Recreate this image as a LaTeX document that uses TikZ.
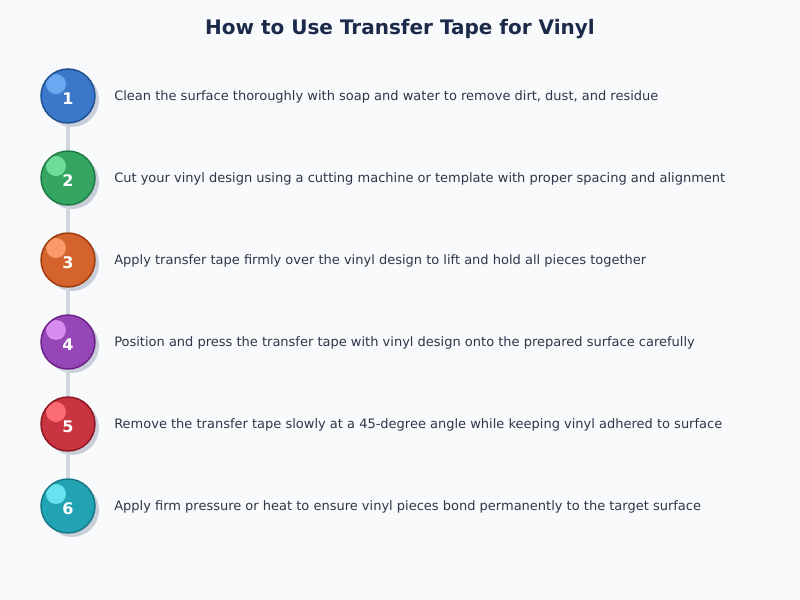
\documentclass[tikz,border=0pt]{standalone}
\usepackage{fontspec}
\setmainfont{DejaVu Sans}
\definecolor{pagebg}{HTML}{F8FAFC}
\definecolor{titleblue}{HTML}{1C2A4A}
\definecolor{textgrey}{HTML}{2E3748}
\definecolor{shadowgrey}{HTML}{C9CED9}
\definecolor{linkgrey}{HTML}{D0D5DE}
\definecolor{blueA}{HTML}{3A78C9}\definecolor{blueB}{HTML}{1D4F91}\definecolor{blueC}{HTML}{6AA9F2}
\definecolor{greenA}{HTML}{35A562}\definecolor{greenB}{HTML}{1D7A43}\definecolor{greenC}{HTML}{6FDC98}
\definecolor{orangeA}{HTML}{D4642C}\definecolor{orangeB}{HTML}{9C3B0E}\definecolor{orangeC}{HTML}{FB9A6A}
\definecolor{purpleA}{HTML}{9746B8}\definecolor{purpleB}{HTML}{6B2188}\definecolor{purpleC}{HTML}{D78BEF}
\definecolor{redA}{HTML}{C8343F}\definecolor{redB}{HTML}{8D1622}\definecolor{redC}{HTML}{FB6B72}
\definecolor{tealA}{HTML}{22A3B3}\definecolor{tealB}{HTML}{137785}\definecolor{tealC}{HTML}{67E3F0}
\begin{document}
\begin{tikzpicture}[x=0.75pt, y=-0.75pt,
    stepball/.style n args={3}{circle, draw=#2, fill=#1, line width=1.1pt, inner sep=0pt, minimum size=40.5pt,
        text=white, font=\fontsize{12}{14}\selectfont\bfseries, text height=12pt, text depth=0pt,
        preaction={fill=shadowgrey, transform canvas={shift={(3pt,-3pt)}}},
        path picture={\fill[#3] ([shift={(-9pt,9pt)}]path picture bounding box.center) circle (7.5pt);}},
    steptext/.style={anchor=west, inner sep=0pt, text=textgrey, font=\fontsize{9.75}{12}\selectfont},
    link/.style={draw=linkgrey, line width=2.6pt}]
    \fill[pagebg] (0,0) rectangle (800,600);
    \useasboundingbox (0,0) rectangle (800,600);

    \node[text=titleblue, font=\fontsize{15}{18}\selectfont\bfseries] (title) at (400, 29.5) {How to Use Transfer Tape for Vinyl};

    \node[stepball={blueA}{blueB}{blueC}] (s1) at (68, 96) {1};
    \node[stepball={greenA}{greenB}{greenC}] (s2) at (68, 178) {2};
    \node[stepball={orangeA}{orangeB}{orangeC}] (s3) at (68, 260) {3};
    \node[stepball={purpleA}{purpleB}{purpleC}] (s4) at (68, 342) {4};
    \node[stepball={redA}{redB}{redC}] (s5) at (68, 424) {5};
    \node[stepball={tealA}{tealB}{tealC}] (s6) at (68, 506) {6};

    \draw[link] (s1) -- (s2);
    \draw[link] (s2) -- (s3);
    \draw[link] (s3) -- (s4);
    \draw[link] (s4) -- (s5);
    \draw[link] (s5) -- (s6);

    \node[steptext] (t1) at (114, 97) {Clean the surface thoroughly with soap and water to remove dirt, dust, and residue};
    \node[steptext] (t2) at (114, 179) {Cut your vinyl design using a cutting machine or template with proper spacing and alignment};
    \node[steptext] (t3) at (114, 261) {Apply transfer tape firmly over the vinyl design to lift and hold all pieces together};
    \node[steptext] (t4) at (114, 343) {Position and press the transfer tape with vinyl design onto the prepared surface carefully};
    \node[steptext] (t5) at (114, 425) {Remove the transfer tape slowly at a 45-degree angle while keeping vinyl adhered to surface};
    \node[steptext] (t6) at (114, 507) {Apply firm pressure or heat to ensure vinyl pieces bond permanently to the target surface};
\end{tikzpicture}
\end{document}
